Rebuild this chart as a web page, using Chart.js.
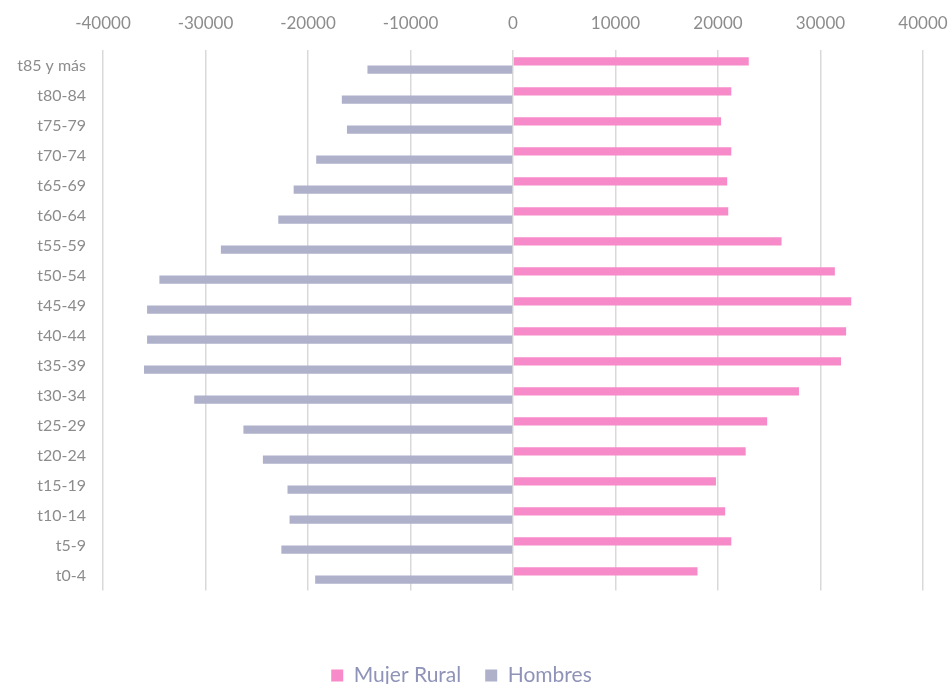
<!DOCTYPE html>
<html>
<head>
<meta charset="utf-8">
<script src="https://cdn.jsdelivr.net/npm/chart.js@4/dist/chart.umd.min.js"></script>
<style>
  html, body { margin: 0; padding: 0; background: #fff; }
  #wrap { width: 952px; height: 684px; }
</style>
</head>
<body>
<div id="wrap"><canvas id="pyramidChart" width="952" height="684"></canvas></div>
<script>
const ageGroups = ['t85 y más', 't80-84', 't75-79', 't70-74', 't65-69', 't60-64', 't55-59', 't50-54',
  't45-49', 't40-44', 't35-39', 't30-34', 't25-29', 't20-24', 't15-19', 't10-14', 't5-9', 't0-4'];

const mujerRural = [23000, 21300, 20300, 21300, 20900, 21000, 26200, 31400,
  33000, 32500, 32000, 27900, 24800, 22700, 19800, 20700, 21300, 18000];

const hombres = [-14200, -16700, -16200, -19200, -21400, -22900, -28500, -34500,
  -35700, -35700, -36000, -31100, -26300, -24400, -22000, -21800, -22600, -19300];

const xTicks = [-40000, -30000, -20000, -10000, 0, 10000, 20000, 30000, 40000];

const font = "'Lato', 'Open Sans', sans-serif";

const ctx = document.getElementById('pyramidChart').getContext('2d');

new Chart(ctx, {
  type: 'bar',
  data: {
    labels: ageGroups,
    datasets: [
      {
        label: 'Mujer Rural',
        data: mujerRural,
        backgroundColor: '#f78ac8',
        categoryPercentage: 0.55,
        barPercentage: 1.0
      },
      {
        label: 'Hombres',
        data: hombres,
        backgroundColor: '#afb1cb',
        categoryPercentage: 0.55,
        barPercentage: 1.0
      }
    ]
  },
  options: {
    indexAxis: 'y',
    responsive: false,
    animation: false,
    layout: { padding: { top: -4, right: 29, bottom: -12, left: 0 } },
    scales: {
      x: {
        position: 'top',
        min: -40000,
        max: 40000,
        afterBuildTicks: axis => { axis.ticks = xTicks.map(v => ({ value: v })); },
        afterFit: axis => { axis.paddingLeft = 0; axis.paddingRight = 0; },
        grid: { color: '#d9d9d9', lineWidth: 1.5, drawTicks: false },
        border: { display: false },
        ticks: {
          padding: 17,
          color: '#8c8c8c',
          font: { family: font, size: 17 },
          callback: v => String(v)
        }
      },
      y: {
        grid: { display: false },
        border: { display: false },
        afterFit: axis => { axis.width = 103; },
        ticks: {
          padding: 9,
          color: '#8c8c8c',
          font: { family: font, size: 16 }
        }
      }
    },
    plugins: {
      legend: {
        position: 'bottom',
        title: { display: true, text: '', padding: 18 },
        labels: {
          boxWidth: 12,
          boxHeight: 12,
          padding: 24,
          color: '#8f93b8',
          font: { family: font, size: 21 }
        }
      },
      tooltip: { enabled: false }
    }
  }
});
</script>
</body>
</html>
